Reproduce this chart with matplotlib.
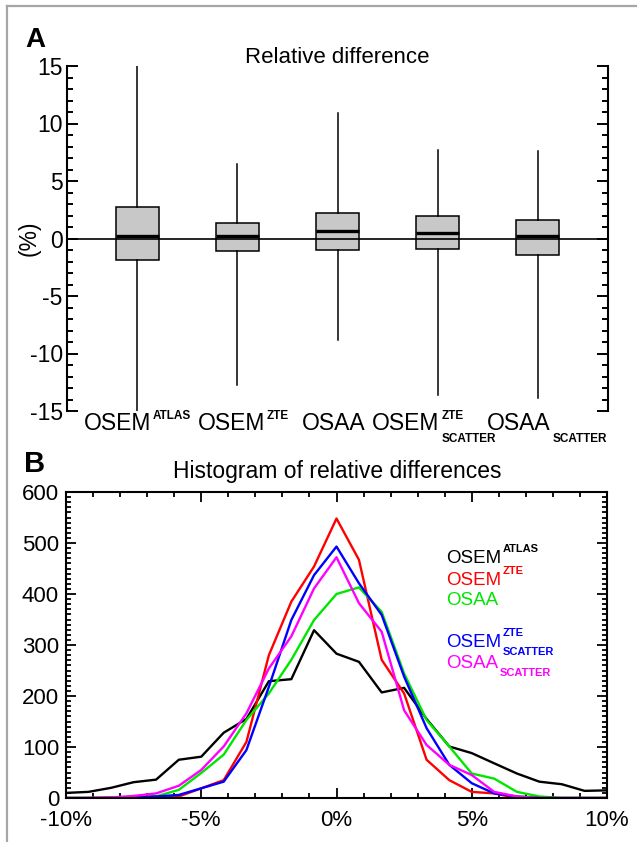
import matplotlib
matplotlib.use('Agg')
import matplotlib.pyplot as plt
from matplotlib.lines import Line2D
from matplotlib.transforms import offset_copy
from matplotlib.ticker import MultipleLocator, FixedLocator

plt.rcParams['font.family'] = ['Liberation Sans', 'DejaVu Sans']
plt.rcParams['axes.unicode_minus'] = False

# ---------------- data: panel A (box plots, %) ----------------
method_main = ['OSEM', 'OSEM', 'OSAA', 'OSEM', 'OSAA']
method_sup = ['ATLAS', 'ZTE', '', 'ZTE', '']
method_sub = ['', '', '', 'SCATTER', 'SCATTER']
box_whisker_low = [-15.0, -12.7, -8.8, -13.6, -13.9]
box_q1 = [-1.9, -1.13, -1.04, -0.87, -1.45]
box_median = [0.23, 0.20, 0.67, 0.47, 0.18]
box_q3 = [2.70, 1.39, 2.18, 1.92, 1.60]
box_whisker_high = [15.0, 6.47, 10.88, 7.69, 7.60]

# ---------------- data: panel B (histograms) ----------------
hist_x_pct = [-10.0, -9.17, -8.33, -7.5, -6.67, -5.83, -5.0, -4.17, -3.33,
              -2.5, -1.67, -0.83, 0.0, 0.83, 1.67, 2.5, 3.33, 4.17, 5.0,
              5.83, 6.67, 7.5, 8.33, 9.17, 10.0]
hist_osem_atlas = [10, 12, 20, 31, 36, 75, 81, 128, 155, 229, 233, 329, 283,
                   267, 207, 216, 155, 101, 88, 68, 48, 32, 27, 14, 15]
hist_osem_zte = [0, 0, 1, 2, 3, 3, 19, 35, 110, 280, 385, 454, 548,
                 467, 271, 205, 75, 35, 12, 9, 0, 0, 0, 0, 0]
hist_osaa = [0, 0, 0, 1, 3, 16, 49, 85, 153, 205, 271, 349, 400,
             413, 365, 244, 153, 101, 48, 38, 12, 3, 0, 0, 0]
hist_osem_zte_scatter = [0, 0, 0, 1, 3, 6, 19, 32, 94, 218, 349, 437, 493,
                         421, 359, 238, 137, 65, 29, 9, 3, 0, 0, 0, 0]
hist_osaa_scatter = [0, 0, 1, 4, 9, 24, 55, 101, 166, 254, 317, 411, 472,
                     382, 326, 172, 104, 65, 45, 12, 3, 0, 0, 0, 0]

series_values = [hist_osem_atlas, hist_osem_zte, hist_osaa,
                 hist_osem_zte_scatter, hist_osaa_scatter]
series_colors = ['black', '#ff0000', '#00e600', '#0000ff', '#ff00ff']
series_main = ['OSEM', 'OSEM', 'OSAA', 'OSEM', 'OSAA']
series_sup = ['ATLAS', 'ZTE', '', 'ZTE', '']
series_sub = ['', '', '', 'SCATTER', 'SCATTER']

x_tick_vals = [-10, -5, 0, 5, 10]
x_tick_labels = ['-10%', '-5%', '0%', '5%', '10%']
y_tick_vals_b = [0, 100, 200, 300, 400, 500, 600]
y_tick_vals_a = [-15, -10, -5, 0, 5, 10, 15]

# ---------------- layout ----------------
W, H = 637, 842
fig = plt.figure(figsize=(W / 100, H / 100), dpi=100)
renderer = fig.canvas.get_renderer()


def frac_box(l, t, r, b):
    return [l / W, 1 - b / H, (r - l) / W, (b - t) / H]


def compose(ax, x, y, trans, main, sup, sub, size, ssize, color,
            sup_dy, sub_dy, center=True, gap=1.5):
    parts = []
    tm = ax.text(x, y, main, transform=trans, fontsize=size, color=color,
                 ha='left', va='baseline')
    parts.append(tm)
    w = tm.get_window_extent(renderer).width
    extra = 0
    if sup:
        ts = ax.text(x, y, sup, transform=offset_copy(trans, fig=fig, x=w + gap, y=sup_dy, units='dots'),
                     fontsize=ssize, color=color, ha='left', va='baseline', fontweight='bold')
        parts.append(ts)
        extra = max(extra, ts.get_window_extent(renderer).width)
    if sub:
        tb = ax.text(x, y, sub, transform=offset_copy(trans, fig=fig, x=w + gap, y=sub_dy, units='dots'),
                     fontsize=ssize, color=color, ha='left', va='baseline', fontweight='bold')
        parts.append(tb)
        extra = max(extra, tb.get_window_extent(renderer).width)
    total = w + (gap + extra if extra else 0)
    if center:
        for p in parts:
            p.set_transform(offset_copy(p.get_transform(), fig=fig, x=-total / 2, units='dots'))
    for p in parts:
        p.set_clip_on(False)
    return parts


# frame lines of the figure
fig.add_artist(Line2D([7 / W, 7 / W], [0, 1 - 6 / H], transform=fig.transFigure,
                      color='#a6a6a6', lw=1.6))
fig.add_artist(Line2D([7 / W, 1], [1 - 6 / H, 1 - 6 / H], transform=fig.transFigure,
                      color='#a6a6a6', lw=1.6))

# ================= Panel A =================
axA = fig.add_axes(frac_box(67, 66, 608, 411))
positions = [1, 2, 3, 4, 5]
stats = []
for i in range(len(positions)):
    stats.append(dict(med=box_median[i], q1=box_q1[i], q3=box_q3[i],
                      whislo=box_whisker_low[i], whishi=box_whisker_high[i],
                      fliers=[]))
axA.bxp(stats, positions=positions, widths=0.43, patch_artist=True,
        showcaps=False, showfliers=False,
        boxprops=dict(facecolor='#c8c8c8', edgecolor='black', linewidth=1.1),
        whiskerprops=dict(color='black', linewidth=1.1),
        medianprops=dict(color='black', linewidth=2.4))
axA.axhline(0, color='black', lw=1.2, zorder=5)
axA.set_xlim(0.3, 5.7)
axA.set_ylim(-15, 15)
for s in ['top', 'bottom']:
    axA.spines[s].set_visible(False)
for s in ['left', 'right']:
    axA.spines[s].set_linewidth(1.5)
axA.set_xticks([])
axA.yaxis.set_major_locator(FixedLocator(y_tick_vals_a))
axA.yaxis.set_minor_locator(MultipleLocator(1))
axA.tick_params(axis='y', which='both', direction='in', left=True, right=True,
                labelright=False, width=1.4)
axA.tick_params(axis='y', which='major', length=8, labelsize=16.5, pad=3)
axA.tick_params(axis='y', which='minor', length=4.3)
axA.set_ylabel('(%)', fontsize=16.5)
axA.yaxis.set_label_coords(-0.048, 0.5)

# category labels under the boxes (centres as laid out in the original)
label_centres = [1.0, 2.057, 2.965, 3.963, 5.09]
transA = axA.get_xaxis_transform()
label_base = -19.0 / 345.0
for i in range(5):
    compose(axA, label_centres[i], label_base, transA, method_main[i], method_sup[i],
            method_sub[i], 16.5, 8.5, 'black', sup_dy=11, sub_dy=-12)

fig.text(337.5 / W, 1 - 63 / H, 'Relative difference', ha='center', va='baseline', fontsize=16)
fig.text(25 / W, 1 - 47 / H, 'A', ha='left', va='baseline', fontsize=20, fontweight='bold')

# ================= Panel B =================
axB = fig.add_axes(frac_box(66, 492, 607, 798))
for vals, col in zip(series_values, series_colors):
    axB.plot(hist_x_pct, vals, color=col, lw=1.7)
axB.set_xlim(-10, 10)
axB.set_ylim(0, 600)
for s in axB.spines.values():
    s.set_linewidth(1.5)
axB.xaxis.set_major_locator(FixedLocator(x_tick_vals))
axB.set_xticklabels(x_tick_labels)
axB.xaxis.set_minor_locator(MultipleLocator(1))
axB.yaxis.set_major_locator(FixedLocator(y_tick_vals_b))
axB.yaxis.set_minor_locator(MultipleLocator(10))
axB.tick_params(which='both', direction='in', top=True, right=True, width=1.3)
axB.tick_params(which='major', length=7, labelsize=16)
axB.tick_params(which='minor', length=3.6)
axB.tick_params(axis='x', which='major', pad=9)
axB.tick_params(axis='y', which='major', pad=5)

legend_x = 4.07
legend_y = [461, 418, 378, 296, 255]
for i in range(5):
    compose(axB, legend_x, legend_y[i], axB.transData, series_main[i], series_sup[i],
            series_sub[i], 13.5, 8, series_colors[i], sup_dy=11, sub_dy=-8,
            center=False, gap=1)

fig.text(337 / W, 1 - 478 / H, 'Histogram of relative differences', ha='center',
         va='baseline', fontsize=16.5)
fig.text(24 / W, 1 - 472 / H, 'B', ha='left', va='baseline', fontsize=21, fontweight='bold')

fig.savefig('out.png', dpi=100)
